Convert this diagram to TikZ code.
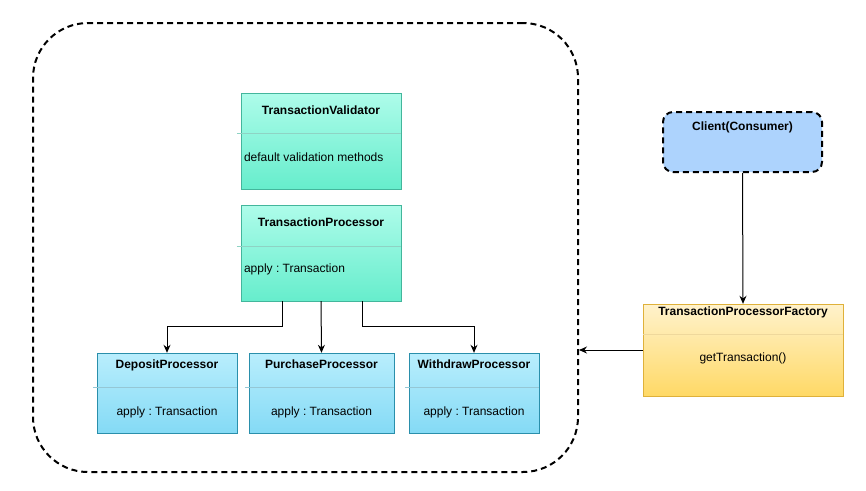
\documentclass[tikz,border=0pt]{standalone}
\usepackage{fontspec}
\setmainfont{Liberation Sans}
\usepackage{tikz}
\usetikzlibrary{positioning,calc,arrows.meta}
\frenchspacing
\definecolor{tealtop}{HTML}{AEFCEA}
\definecolor{tealbot}{HTML}{66EDCC}
\definecolor{tealline}{HTML}{43B69C}
\definecolor{cyantop}{HTML}{B9EEFD}
\definecolor{cyanbot}{HTML}{84DAF5}
\definecolor{cyanline}{HTML}{2A8FAB}
\definecolor{yeltop}{HTML}{FFF2CC}
\definecolor{yelbot}{HTML}{FFD966}
\definecolor{yelline}{HTML}{DFB13A}
\definecolor{clientfill}{HTML}{ADD3FD}
\tikzset{
	tbox/.style={minimum width=160pt,minimum height=96pt,draw=tealline,top color=tealtop,bottom color=tealbot,inner sep=0pt},
	cbox/.style={minimum height=80pt,draw=cyanline,top color=cyantop,bottom color=cyanbot,inner sep=0pt},
	ttl/.style={font=\fontsize{12}{14}\selectfont\bfseries,inner sep=0pt},
	txt/.style={font=\fontsize{12}{14}\selectfont,inner sep=0pt},
	div/.style={line width=0.6pt},
	wire/.style={-{Stealth[length=8pt,width=7pt]},line width=1pt},
	fence/.style={line width=2pt,dash pattern=on 6pt off 4pt}
}
\begin{document}
\begin{tikzpicture}[x=1pt,y=-1pt]
		\useasboundingbox (0,0) rectangle (866,490);
		\node[fence,draw=black,rounded corners=55pt,minimum width=545pt,minimum height=449pt] (box) at (305.5,247.5) {};
		
		\node[tbox] (tv) at (321,141) {};
		\draw[div,draw=tealline!60] ([shift={(-4,40)}]tv.north west)--([shift={(0,40)}]tv.north east);
		\node[ttl,shift={(0,22)},anchor=base] (tvt) at (tv.north) {TransactionValidator};
		\node[txt,shift={(3,69)},anchor=base west] (tvb) at (tv.north west) {default validation methods};
		
		\node[tbox] (tp) at (321,253) {};
		\draw[div,draw=tealline!60] ([shift={(-4,41)}]tp.north west)--([shift={(0,41)}]tp.north east);
		\node[ttl,shift={(0,22)},anchor=base] (tpt) at (tp.north) {TransactionProcessor};
		\node[txt,shift={(3,68)},anchor=base west] (tpb) at (tp.north west) {apply : Transaction};
		
		\node[cbox,minimum width=140pt] (dp) at (167,393) {};
		\node[cbox,minimum width=145pt] (pp) at (321.5,393) {};
		\node[cbox,minimum width=130pt] (wp) at (474,393) {};
		\foreach \b/\t in {dp/DepositProcessor,pp/PurchaseProcessor,wp/WithdrawProcessor}{
			\draw[div,draw=cyanline!50] ([shift={(-4,34)}]\b.north west)--([shift={(0,34)}]\b.north east);
			\node[ttl,shift={(0,16)},anchor=base] (\b t) at (\b.north) {\t};
			\node[txt,shift={(0,63)},anchor=base] (\b b) at (\b.north) {apply : Transaction};
		}
		
		\node[fence,draw=black,rounded corners=10pt,fill=clientfill,minimum width=159pt,minimum height=60pt] (cl) at (742.5,142) {};
		\node[ttl,shift={(0,19)},anchor=base] (clt) at (cl.north) {Client(Consumer)};
		
		\node[minimum width=200pt,minimum height=92pt,draw=yelline,top color=yeltop,bottom color=yelbot,inner sep=0pt] (tf) at (743,350) {};
		\draw[div,draw=yelline!50] ([shift={(0,30)}]tf.north west)--([shift={(0,30)}]tf.north east);
		\node[ttl,shift={(0,12)},anchor=base] (tft) at (tf.north) {TransactionProcessorFactory};
		\node[txt,shift={(0,58)},anchor=base] (tfb) at (tf.north) {getTransaction()};
		
		\draw[wire] ([xshift=-39pt]tp.south)--++(0,25)-|(dp.north);
		\draw[wire] (tp.south)--(pp.north);
		\draw[wire] ([xshift=41pt]tp.south)--++(0,25)-|(wp.north);
		\draw[wire] (cl.south)--(tf.north);
		\draw[wire] (tf.west)--(tf.west -| box.east);
	\end{tikzpicture}
\end{document}
